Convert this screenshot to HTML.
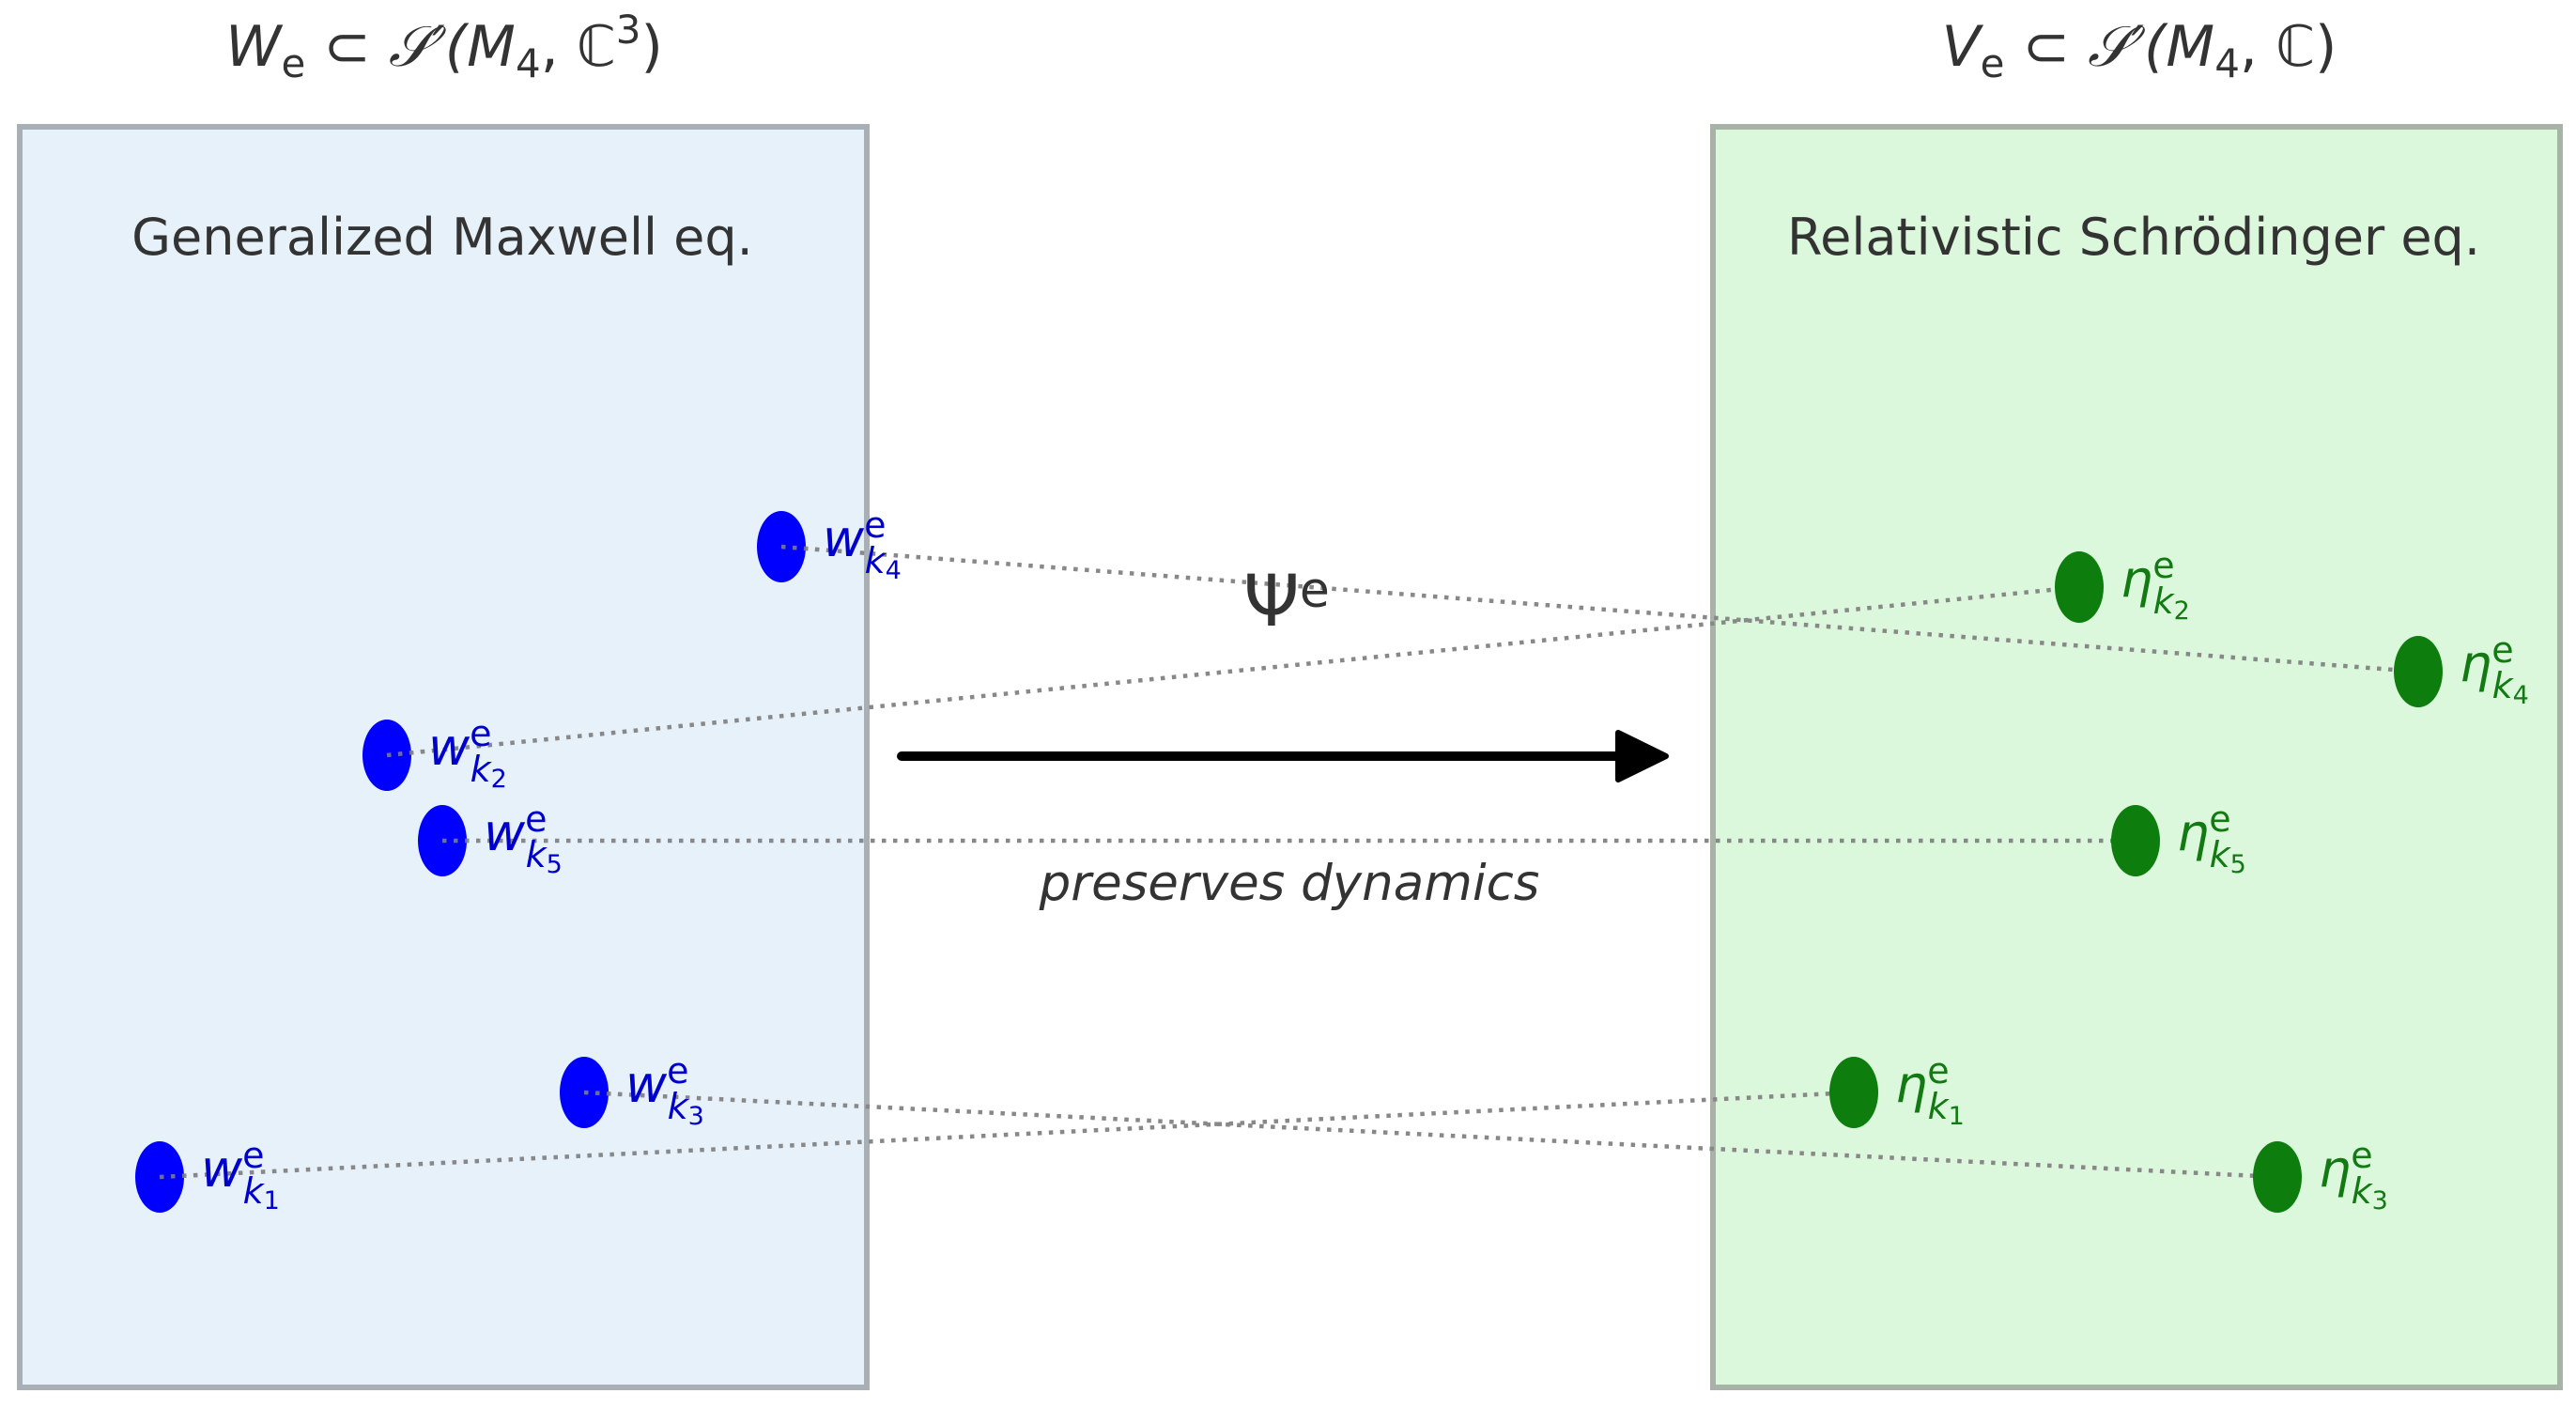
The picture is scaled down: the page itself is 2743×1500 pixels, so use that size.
<!DOCTYPE html>
<html><head><meta charset="utf-8"><style>
html,body{margin:0;padding:0;background:#fff;}
svg{display:block;}
text{font-family:"DejaVu Sans","Liberation Sans",sans-serif;}
</style></head><body>
<svg width="2743" height="1500" viewBox="0 0 2743 1500" xmlns="http://www.w3.org/2000/svg">
<rect x="21" y="135" width="902" height="1342" fill="#e6f1f9" stroke="#a9b0b5" stroke-width="6"/>
<rect x="1824" y="135" width="902" height="1342" fill="#dcf8dc" stroke="#a7b3a7" stroke-width="6"/>

<text x="473" y="70" font-size="60" fill="#333" text-anchor="middle" font-style="italic">W<tspan font-size="42" dy="12" font-style="normal">e</tspan><tspan dy="-12" font-style="normal"> ⊂ </tspan>𝒮′(M<tspan font-size="42" dy="12" font-style="normal">4</tspan><tspan dy="-12" font-style="normal">, ℂ</tspan><tspan font-size="42" dy="-24" font-style="normal">3</tspan><tspan dy="24" font-style="normal">)</tspan></text>
<text x="2278" y="70" font-size="60" fill="#333" text-anchor="middle" font-style="italic">V<tspan font-size="42" dy="12" font-style="normal">e</tspan><tspan dy="-12" font-style="normal"> ⊂ </tspan>𝒮′(M<tspan font-size="42" dy="12" font-style="normal">4</tspan><tspan dy="-12" font-style="normal">, ℂ)</tspan></text>

<text x="471" y="271" font-size="54" fill="#333" text-anchor="middle">Generalized Maxwell eq.</text>
<text x="2272" y="271" font-size="54" fill="#333" text-anchor="middle">Relativistic Schrödinger eq.</text>

<g stroke="#888" stroke-width="4.5" stroke-dasharray="4.5 7.5" fill="none">
<line x1="832" y1="582" x2="2575" y2="715"/>
<line x1="412" y1="804" x2="2214" y2="625"/>
<line x1="471" y1="895" x2="2274" y2="895"/>
<line x1="622" y1="1163" x2="2425" y2="1253"/>
<line x1="170" y1="1253" x2="1974" y2="1163"/>
</g>

<g fill="#0000ff">
<ellipse cx="832" cy="582" rx="26" ry="38"/>
<ellipse cx="412" cy="804" rx="26" ry="38"/>
<ellipse cx="471" cy="895" rx="26" ry="38"/>
<ellipse cx="622" cy="1163" rx="26" ry="38"/>
<ellipse cx="170" cy="1253" rx="26" ry="38"/>
</g>
<g fill="#0d7d0d">
<ellipse cx="2214" cy="625" rx="26" ry="38"/>
<ellipse cx="2575" cy="715" rx="26" ry="38"/>
<ellipse cx="2274" cy="895" rx="26" ry="38"/>
<ellipse cx="1974" cy="1163" rx="26" ry="38"/>
<ellipse cx="2425" cy="1253" rx="26" ry="38"/>
</g>
<g stroke="#888" stroke-width="4.5" stroke-dasharray="4.5 7.5" fill="none" opacity="0.8">
<line x1="832" y1="582" x2="870" y2="585"/>
<line x1="412" y1="804" x2="450" y2="800"/>
<line x1="471" y1="895" x2="510" y2="895"/>
<line x1="622" y1="1163" x2="660" y2="1165"/>
<line x1="170" y1="1253" x2="210" y2="1251"/>
</g>

<g font-size="54" fill="#0000cc" font-style="italic">
<text x="876" y="592">w<tspan font-size="38" dy="-20" font-style="normal">e</tspan><tspan font-size="38" dx="-23" dy="38">k</tspan><tspan font-size="27" dy="6" font-style="normal">4</tspan></text>
<text x="456" y="814">w<tspan font-size="38" dy="-20" font-style="normal">e</tspan><tspan font-size="38" dx="-23" dy="38">k</tspan><tspan font-size="27" dy="6" font-style="normal">2</tspan></text>
<text x="515" y="905">w<tspan font-size="38" dy="-20" font-style="normal">e</tspan><tspan font-size="38" dx="-23" dy="38">k</tspan><tspan font-size="27" dy="6" font-style="normal">5</tspan></text>
<text x="666" y="1173">w<tspan font-size="38" dy="-20" font-style="normal">e</tspan><tspan font-size="38" dx="-23" dy="38">k</tspan><tspan font-size="27" dy="6" font-style="normal">3</tspan></text>
<text x="214" y="1263">w<tspan font-size="38" dy="-20" font-style="normal">e</tspan><tspan font-size="38" dx="-23" dy="38">k</tspan><tspan font-size="27" dy="6" font-style="normal">1</tspan></text>
</g>
<g font-size="54" fill="#137a13" font-style="italic">
<text x="2258" y="635">η<tspan font-size="38" dy="-20" font-style="normal">e</tspan><tspan font-size="38" dx="-23" dy="38">k</tspan><tspan font-size="27" dy="6" font-style="normal">2</tspan></text>
<text x="2619" y="725">η<tspan font-size="38" dy="-20" font-style="normal">e</tspan><tspan font-size="38" dx="-23" dy="38">k</tspan><tspan font-size="27" dy="6" font-style="normal">4</tspan></text>
<text x="2318" y="905">η<tspan font-size="38" dy="-20" font-style="normal">e</tspan><tspan font-size="38" dx="-23" dy="38">k</tspan><tspan font-size="27" dy="6" font-style="normal">5</tspan></text>
<text x="2018" y="1173">η<tspan font-size="38" dy="-20" font-style="normal">e</tspan><tspan font-size="38" dx="-23" dy="38">k</tspan><tspan font-size="27" dy="6" font-style="normal">1</tspan></text>
<text x="2469" y="1263">η<tspan font-size="38" dy="-20" font-style="normal">e</tspan><tspan font-size="38" dx="-23" dy="38">k</tspan><tspan font-size="27" dy="6" font-style="normal">3</tspan></text>
</g>

<line x1="960" y1="805" x2="1730" y2="805" stroke="#000" stroke-width="10" stroke-linecap="round"/>
<path d="M1723 780 L1774 805 L1723 830 Z" fill="#000" stroke="#000" stroke-width="6" stroke-linejoin="round"/>

<text x="1324" y="666" font-size="76" fill="#333">Ψ<tspan font-size="52" dy="-20">e</tspan></text>
<text x="1373" y="958" font-size="53" fill="#333" text-anchor="middle" font-style="italic">preserves dynamics</text>
</svg>
</body></html>
